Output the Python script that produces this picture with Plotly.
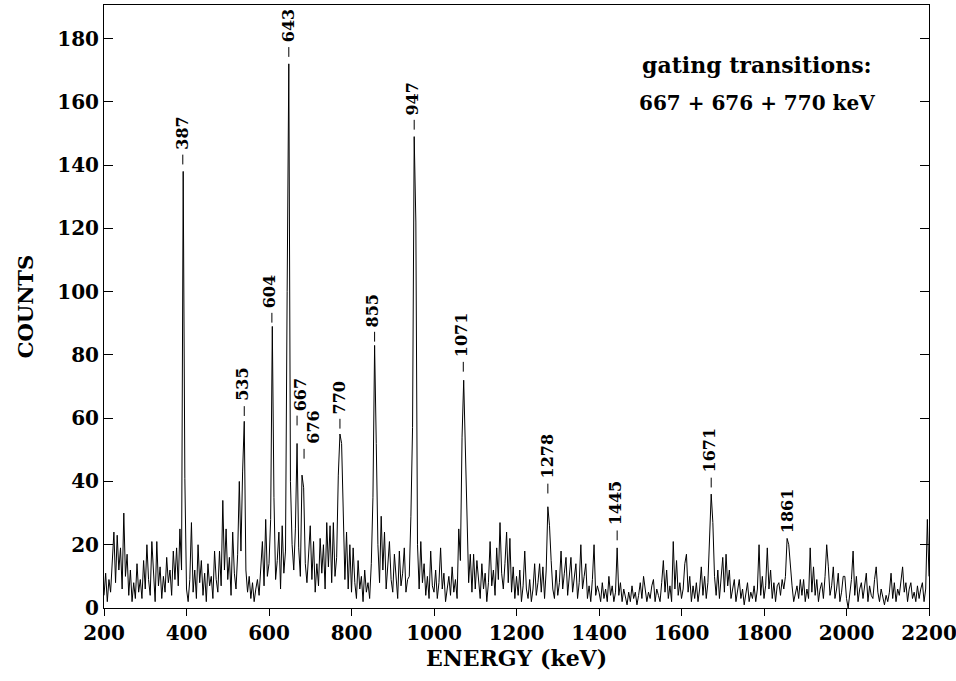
import plotly.graph_objects as go

# ---- spectrum: counts per 4 keV channel, starting at 200 keV ----
channel_start_kev = 200
channel_width_kev = 4
counts = (
    # 200 - 296
    [4, 11, 2, 9, 5, 14, 24, 8, 23, 12, 19, 6, 30, 10, 17, 4, 12, 2, 8, 3, 14, 5, 9, 3, 15]
    # 300 - 396
    + [6, 20, 9, 4, 21, 11, 2, 21, 7, 13, 3, 10, 5, 16, 8, 12, 4, 18, 9, 19, 7, 25, 12, 138, 41]
    # 400 - 496
    + [6, 2, 9, 27, 5, 12, 3, 20, 8, 15, 4, 11, 2, 14, 7, 10, 3, 18, 9, 5, 18, 7, 34, 12, 25]
    # 500 - 596
    + [9, 16, 4, 24, 11, 6, 17, 40, 18, 43, 59, 12, 5, 10, 3, 8, 2, 6, 9, 4, 12, 21, 7, 28, 10]
    # 600 - 696
    + [14, 28, 89, 35, 9, 15, 24, 6, 26, 11, 18, 100, 172, 40, 20, 12, 25, 52, 19, 10, 42, 38, 14, 8, 16]
    # 700 - 796
    + [26, 9, 21, 5, 14, 7, 22, 11, 20, 6, 27, 13, 26, 8, 27, 10, 16, 42, 55, 52, 25, 9, 24, 6, 20]
    # 800 - 896
    + [5, 19, 8, 3, 15, 6, 10, 2, 12, 5, 8, 3, 14, 35, 83, 52, 20, 8, 29, 12, 24, 6, 14, 21, 9]
    # 900 - 996
    + [5, 17, 8, 3, 18, 7, 11, 19, 5, 9, 10, 29, 57, 149, 122, 20, 6, 21, 8, 14, 4, 10, 3, 18, 7]
    # 1000 - 1096
    + [5, 12, 3, 8, 19, 6, 11, 2, 7, 10, 4, 13, 5, 9, 3, 25, 15, 54, 72, 47, 22, 8, 17, 5, 17]
    # 1100 - 1196
    + [6, 15, 9, 3, 14, 6, 11, 2, 8, 21, 7, 12, 4, 19, 9, 27, 11, 6, 14, 24, 8, 22, 5, 13, 3]
    # 1200 - 1296
    + [10, 4, 12, 2, 7, 18, 6, 3, 9, 2, 6, 14, 4, 8, 14, 5, 13, 3, 12, 32, 26, 15, 6, 3, 12]
    # 1300 - 1396
    + [4, 8, 18, 6, 11, 16, 4, 9, 16, 5, 10, 14, 3, 8, 20, 6, 10, 14, 3, 7, 2, 9, 20, 4, 7]
    # 1400 - 1496
    + [5, 2, 8, 3, 6, 2, 10, 4, 7, 2, 5, 19, 4, 8, 2, 6, 3, 1, 5, 2, 7, 3, 5, 1, 4]
    # 1500 - 1596
    + [8, 3, 10, 6, 2, 5, 3, 7, 9, 2, 6, 4, 2, 8, 15, 5, 12, 3, 7, 2, 21, 6, 15, 4, 8]
    # 1600 - 1696
    + [3, 6, 14, 17, 5, 10, 2, 7, 3, 8, 2, 6, 13, 4, 10, 3, 8, 24, 36, 27, 10, 4, 12, 3, 9]
    # 1700 - 1796
    + [16, 5, 17, 7, 12, 3, 6, 9, 2, 5, 9, 3, 6, 1, 4, 8, 2, 5, 3, 7, 2, 6, 20, 4, 10]
    # 1800 - 1896
    + [3, 7, 19, 6, 12, 3, 8, 2, 7, 8, 4, 9, 6, 10, 22, 20, 12, 7, 2, 5, 7, 3, 9, 4, 9]
    # 1900 - 1996
    + [2, 6, 3, 19, 5, 13, 4, 9, 2, 6, 8, 3, 10, 20, 13, 4, 7, 13, 3, 6, 11, 2, 5, 10, 10]
    # 2000 - 2096
    + [3, 0, 5, 9, 18, 4, 10, 2, 6, 8, 3, 7, 11, 2, 7, 4, 3, 9, 13, 5, 2, 6, 3, 1, 4]
    # 2100 - 2196
    + [2, 5, 11, 3, 8, 2, 6, 4, 9, 13, 5, 8, 2, 6, 8, 3, 5, 2, 7, 3, 6, 8, 2, 6, 28]
    # 2200
    + [10]
)
energies = [channel_start_kev + channel_width_kev * i for i in range(len(counts))]

# ---- peak labels ----
peak_labels = ["387", "535", "604", "643", "667", "676", "770", "855", "947",
               "1071", "1278", "1445", "1671", "1861"]
label_x_kev = [390, 537, 602, 647, 675, 707, 772, 852, 949, 1067, 1274, 1439, 1667, 1856]
label_y_counts = [144.5, 65, 94.5, 178.5, 62, 51.5, 61, 88.5, 155.5, 79, 40.5, 25.7, 42.4, 23.2]
dash_x_kev = [391, 540, 607, 648, 668, 685, 772, 856, 952, 1071, 1276, 1444, 1672, None]

x_ticks = [200, 400, 600, 800, 1000, 1200, 1400, 1600, 1800, 2000, 2200]
y_ticks = [0, 20, 40, 60, 80, 100, 120, 140, 160, 180]

gate_title = "gating transitions:"
gate_text = "667 + 676 + 770 keV"

FONT = "DejaVu Serif"

fig = go.Figure()
fig.add_trace(go.Scatter(
    x=energies, y=counts, mode="lines",
    line=dict(color="black", width=1),
    hoverinfo="skip", showlegend=False,
))

annotations = []
shapes = []
for txt, lx, ly, dx in zip(peak_labels, label_x_kev, label_y_counts, dash_x_kev):
    annotations.append(dict(
        x=lx, y=ly, xref="x", yref="y", text=txt, showarrow=False,
        textangle=-90, xanchor="center", yanchor="bottom",
        font=dict(family=FONT, size=16, color="black", weight="bold"),
        borderpad=0,
    ))
    if dx is not None:
        shapes.append(dict(
            type="line", xref="x", yref="y",
            x0=dx, x1=dx, y0=ly - 1.2, y1=ly - 4.3,
            line=dict(color="black", width=1),
        ))

annotations.append(dict(
    x=1782, y=171.7, xref="x", yref="y", text=gate_title, showarrow=False,
    xanchor="center", yanchor="middle",
    font=dict(family=FONT, size=22, color="black", weight="bold"),
))
annotations.append(dict(
    x=1782, y=159.7, xref="x", yref="y", text=gate_text, showarrow=False,
    xanchor="center", yanchor="middle",
    font=dict(family=FONT, size=20, color="black", weight="bold"),
))

fig.update_layout(
    width=956, height=681,
    margin=dict(l=104, r=27, t=5, b=73, autoexpand=False),
    paper_bgcolor="white", plot_bgcolor="white",
    showlegend=False,
    annotations=annotations,
    shapes=shapes,
    xaxis=dict(
        range=[200, 2200], tickvals=x_ticks, ticktext=[str(v) for v in x_ticks],
        ticks="outside", ticklen=7, tickwidth=1, tickcolor="black",
        ticklabeloverflow="allow", automargin=False,
        showline=True, linecolor="black", linewidth=1, mirror=True,
        showgrid=False, zeroline=False,
        tickfont=dict(family=FONT, size=20, color="black", weight="bold"),
        title=dict(text="ENERGY (keV)", standoff=4,
                   font=dict(family=FONT, size=22, color="black", weight="bold")),
    ),
    yaxis=dict(
        range=[0, 190.6], tickvals=y_ticks, ticktext=[str(v) for v in y_ticks],
        ticks="inside", ticklen=9, tickwidth=1, tickcolor="black",
        automargin=False,
        showline=True, linecolor="black", linewidth=1, mirror="ticks",
        showgrid=False, zeroline=False,
        tickfont=dict(family=FONT, size=20, color="black", weight="bold"),
        title=dict(text="COUNTS", standoff=17,
                   font=dict(family=FONT, size=21, color="black", weight="bold")),
    ),
)

fig.write_html("out.html")
